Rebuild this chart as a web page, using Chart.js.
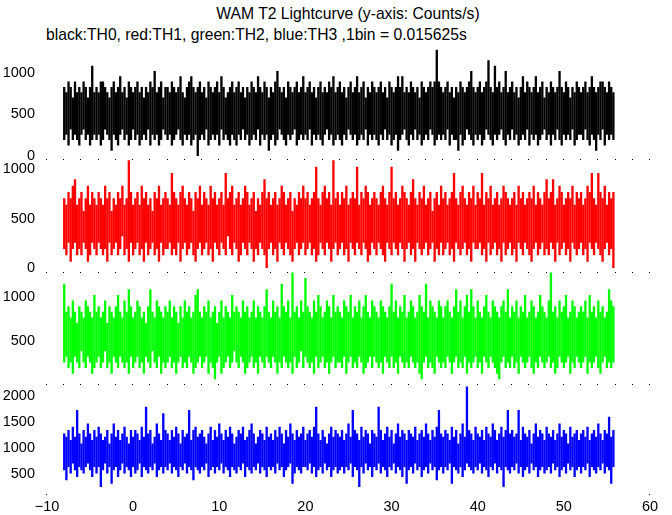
<!DOCTYPE html>
<html>
<head>
<meta charset="utf-8">
<script src="https://cdn.jsdelivr.net/npm/chart.js@4.4.0/dist/chart.umd.min.js"></script>
<style>
body { margin: 0; background: #fff; }
#wrap { position: relative; width: 672px; height: 515px; overflow: hidden; font-family: "Liberation Sans", Arial, sans-serif; }
#wrap canvas { position: absolute; left: 0; top: 0; }
.txt { position: absolute; font-size: 15.7px; line-height: 18px; white-space: nowrap; color: #000; }
</style>
</head>
<body>
<div id="wrap">
  <div class="txt" style="left:0;width:696px;text-align:center;top:5px">WAM T2 Lightcurve (y-axis: Counts/s)</div>
  <div class="txt" style="left:46px;top:26px">black:TH0, red:TH1, green:TH2, blue:TH3 ,1bin = 0.015625s</div>
</div>
<script>
// DATA //
// counts per 1/64 s bin: highest and lowest bin in each 0.25 s slice
var binSize = 0.015625;
var timeStart = -8;
var timeStep = 0.25;

var th0Max = [
  13,12,14,13,11,14,12,13,12,14,13,11,13,17,12,13,
  12,14,14,13,12,11,13,14,12,13,15,12,13,11,14,13,
  12,13,14,12,13,11,13,12,14,13,16,12,13,14,11,13,
  13,12,14,13,12,13,15,12,11,13,14,15,13,12,13,14,
  12,13,11,14,13,12,13,14,12,15,13,11,12,13,14,12,
  13,14,12,13,11,13,12,14,13,12,15,13,12,14,13,11,
  13,12,14,16,13,12,13,11,14,13,12,13,14,12,13,15,
  12,13,14,12,13,11,13,14,12,13,12,14,13,15,12,13,
  14,12,13,11,13,14,12,13,15,12,13,14,11,13,12,14,
  13,12,13,14,12,13,11,14,13,12,13,15,13,15,12,13,
  12,14,13,12,13,11,14,13,12,13,14,13,14,20,14,13,
  12,13,14,12,13,11,13,12,14,13,12,13,14,16,13,12,
  13,14,12,13,14,18,13,12,17,13,14,12,13,16,12,13,
  14,12,13,11,13,15,12,14,13,12,13,15,12,13,14,11,
  13,12,14,13,12,13,16,13,12,14,13,11,13,12,14,13,
  12,13,14,12,13,15,13,12,13,14,14,13,12,14,13,12
];
var th0Min = [
  3,4,2,5,3,4,3,2,4,5,3,4,2,3,4,3,
  4,2,3,5,4,3,1,4,3,2,4,5,3,4,2,3,
  5,3,4,2,3,4,3,5,2,4,3,4,2,3,5,4,
  3,4,2,3,4,5,3,2,4,3,4,2,3,4,0,3,
  4,3,5,2,3,4,3,4,2,5,3,4,3,2,4,3,
  2,4,3,5,3,4,2,3,4,3,5,2,4,3,4,1,
  3,4,2,3,5,4,3,2,4,3,4,5,2,3,4,3,
  4,3,5,2,4,3,4,3,2,4,5,3,4,2,3,4,
  3,2,4,3,5,4,3,4,2,3,4,3,5,2,4,3,
  4,3,2,4,3,5,3,4,2,3,4,1,3,4,5,3,
  2,4,3,5,3,4,2,3,4,3,5,4,2,3,4,3,
  4,3,5,2,4,3,3,1,4,2,3,5,4,3,2,4,
  3,4,2,3,5,4,3,2,4,3,4,5,3,2,4,3,
  5,3,4,2,3,4,3,5,2,4,3,4,2,3,4,5,
  3,4,2,4,3,5,3,2,4,3,4,3,5,2,3,4,
  4,3,5,3,2,4,3,1,4,3,5,2,4,3,4,3
];
var th1Max = [
  11,10,12,11,13,14,10,11,12,9,11,13,10,12,11,10,
  12,11,10,13,11,12,9,11,10,12,11,13,10,11,17,12,
  10,11,12,10,13,11,12,10,11,9,12,11,13,10,11,12,
  11,10,15,12,11,10,12,13,11,10,12,11,9,12,11,13,
  10,12,11,10,13,11,12,10,11,12,10,15,11,12,13,10,
  11,12,10,11,13,12,10,11,12,9,11,10,12,14,11,12,
  10,11,12,10,11,13,12,10,11,12,9,11,10,12,11,13,
  11,12,10,11,12,16,11,10,12,13,11,12,10,17,11,12,
  10,12,11,13,10,11,12,11,16,10,12,11,13,12,10,11,
  12,11,10,12,13,11,10,12,16,11,12,10,11,13,12,11,
  10,12,14,11,10,12,11,13,10,11,12,9,11,12,10,13,
  11,12,10,11,12,15,11,10,12,13,11,10,12,11,13,10,
  12,11,15,10,12,11,13,10,11,12,10,11,13,12,11,10,
  11,12,10,13,11,12,10,11,12,11,13,10,12,11,10,12,
  14,11,12,14,10,11,13,12,10,11,12,11,13,10,12,11,
  12,10,11,13,12,15,11,10,15,12,11,13,10,12,11,12
];
var th1Min = [
  3,2,4,1,3,4,2,3,2,4,3,1,2,4,3,2,
  4,3,2,3,1,4,2,3,4,2,3,5,2,3,1,4,
  2,3,4,2,3,1,4,2,3,4,2,3,1,4,2,3,
  3,4,2,3,2,4,1,3,4,2,3,4,2,1,3,4,
  2,3,4,2,3,1,4,3,2,4,3,2,5,3,2,4,
  3,1,2,4,3,2,4,3,1,3,2,4,3,2,0,3,
  4,2,3,1,4,3,2,4,3,2,1,3,4,2,3,4,
  2,3,4,2,3,1,2,4,3,2,4,3,1,3,4,2,
  3,4,2,3,1,4,3,2,4,3,2,4,3,1,2,4,
  3,2,4,3,2,1,4,3,2,4,3,2,4,3,1,3,
  4,2,3,1,4,3,2,3,4,2,3,4,1,3,2,4,
  2,3,4,2,3,1,4,3,2,3,4,2,3,1,4,3,
  3,4,2,3,1,4,2,3,4,2,3,1,4,2,3,4,
  2,3,1,4,3,2,4,3,2,1,3,4,2,3,4,2,
  3,2,4,3,1,4,2,3,4,2,3,1,4,3,2,3,
  4,2,3,1,4,3,2,4,3,2,1,3,4,2,3,0
];
var th2Max = [
  18,13,14,12,15,13,11,14,13,12,15,14,13,12,16,13,
  14,12,13,15,11,14,13,12,14,16,13,12,15,13,17,14,
  12,13,15,14,12,13,11,14,17,13,12,15,14,13,12,14,
  13,15,12,14,13,11,14,12,15,13,14,12,13,16,17,13,
  12,14,13,15,12,13,14,11,13,15,12,14,13,12,16,13,
  14,13,12,15,13,14,12,13,15,12,14,13,12,14,17,13,
  12,15,13,14,12,18,14,13,15,12,20,13,14,12,15,13,
  19,14,13,12,15,13,16,14,12,13,15,14,12,16,13,14,
  13,12,15,14,13,16,12,14,13,15,12,14,16,13,12,15,
  14,13,12,15,14,13,12,14,18,13,15,12,14,13,16,12,
  13,15,14,12,13,16,14,13,18,12,15,14,13,12,15,14,
  12,14,15,13,12,14,17,13,15,12,14,16,13,17,14,12,
  15,13,12,14,16,13,12,15,14,13,12,14,15,13,17,12,
  14,13,15,12,14,13,16,12,13,15,14,12,13,16,14,13,
  12,15,20,13,14,12,15,13,14,16,12,13,15,14,12,13,
  14,13,15,12,16,13,14,12,15,13,14,12,13,17,15,14
];
var th2Min = [
  4,5,3,4,2,5,4,3,6,4,3,5,4,2,3,4,
  5,3,4,6,3,4,2,5,4,3,5,4,3,4,2,5,
  3,4,5,3,4,2,5,4,3,6,4,3,5,2,4,3,
  4,5,3,4,2,4,5,3,4,3,5,4,2,3,4,5,
  3,4,5,2,4,3,1,4,5,2,3,4,5,3,4,6,
  4,3,5,4,2,3,4,5,3,4,2,5,4,3,5,4,
  3,5,4,2,4,3,5,4,3,4,2,5,3,4,6,3,
  5,4,3,4,2,5,3,4,5,3,4,2,4,5,3,4,
  4,3,5,2,4,5,3,4,3,5,4,2,3,4,5,3,
  5,4,3,4,2,5,4,3,5,3,4,2,5,4,3,4,
  3,5,4,3,4,2,1,4,5,3,4,3,2,5,4,3,
  4,3,5,4,2,4,5,3,4,3,5,2,4,3,4,5,
  3,4,2,5,4,3,5,4,3,2,1,4,5,3,4,3,
  5,3,4,2,5,4,3,4,5,3,2,4,3,5,4,3,
  4,5,3,4,2,3,5,4,3,4,5,2,4,3,5,4,
  3,4,5,2,4,3,4,5,3,2,4,5,3,4,3,4
];
var th3Max = [
  20,19,21,18,22,19,27,20,17,21,19,23,20,18,21,19,
  22,20,18,19,21,17,20,23,19,21,18,20,22,19,17,21,
  19,21,20,18,22,19,28,20,21,17,19,23,20,18,26,21,
  20,18,21,19,22,20,17,21,19,20,27,18,21,22,19,20,
  21,19,17,20,22,18,21,19,23,20,18,21,19,22,20,17,
  19,21,20,22,18,19,21,23,20,17,19,21,20,18,22,19,
  20,18,21,19,22,20,17,21,19,23,20,18,21,19,20,22,
  18,20,21,19,22,28,20,18,21,19,17,20,22,19,21,20,
  19,21,18,20,23,19,27,21,20,18,22,19,21,20,17,21,
  20,19,28,21,18,20,22,19,21,17,20,23,19,21,20,18,
  21,20,19,22,18,20,21,19,23,20,18,21,19,22,27,20,
  19,21,20,18,22,19,21,17,20,23,19,34,21,20,18,22,
  20,19,21,18,22,20,19,23,21,18,20,22,19,21,27,20,
  21,19,20,27,18,22,20,19,21,17,20,23,19,21,20,18,
  22,20,19,21,18,20,23,19,21,20,17,22,19,20,21,18,
  20,21,19,22,18,20,21,19,23,20,18,21,20,25,19,21
];
var th3Min = [
  9,6,10,8,11,9,7,10,9,8,10,11,9,7,10,8,
  10,4,9,11,8,10,5,9,10,7,9,11,8,10,9,7,
  10,8,9,11,7,10,9,8,10,9,11,7,9,10,8,10,
  9,11,8,10,9,7,10,9,11,8,10,9,6,10,9,8,
  10,9,11,7,9,10,8,10,9,11,8,10,9,7,10,9,
  8,10,9,11,7,10,9,8,10,9,11,8,10,9,7,10,
  9,10,8,11,9,10,7,9,10,11,5,8,10,9,8,10,
  10,9,11,8,10,7,9,10,8,11,9,10,7,9,10,8,
  9,10,8,10,9,11,7,10,9,4,10,8,11,9,10,7,
  10,9,11,8,10,9,7,10,9,11,8,10,9,7,10,5,
  9,10,8,11,9,10,7,9,10,8,11,9,10,6,9,10,
  8,10,9,11,5,10,9,8,10,7,9,11,10,9,8,10,
  9,11,8,10,9,7,10,9,11,8,10,9,4,10,9,8,
  10,9,11,8,10,7,9,10,8,11,9,10,7,9,10,8,
  9,10,8,11,9,10,7,9,10,8,11,9,10,7,9,10,
  8,10,9,11,7,10,9,8,10,9,11,8,10,9,5,10
];

var panelMax = [th0Max, th1Max, th2Max, th3Max];
var panelMin = [th0Min, th1Min, th2Min, th3Min];
var panelColors = ['#000000', '#ff0000', '#00ff00', '#0000ff'];
var panelTicks = [[0, 500, 1000], [0, 500, 1000], [500, 1000], [500, 1000, 1500, 2000]];
var xTicks = [-10, 0, 10, 20, 30, 40, 50, 60];
var minorStep = 2;

// PANEL LAYOUT //
var panelRange = [[-36, 1319], [-35, 1101], [11, 1290], [116, 2225]];
var panelTop = [46.5, 159, 271.5, 384];
var panelHeight = 112.5;
var fontFamily = '"Liberation Sans", Arial, sans-serif';

// tiny dotted minor ticks along the lower edge of each panel
var tickDots = {
    id: 'tickDots',
    afterDraw: function(chart) {
        var ctx = chart.ctx;
        var xs = chart.scales.x;
        var y = Math.round(chart.chartArea.bottom);
        var every = chart.options.plugins.tickDots.all;
        ctx.save();
        ctx.fillStyle = '#000';
        for (var v = xs.min; v <= xs.max; v += minorStep) {
            if (every || v == xs.min || v == xs.max) {
                ctx.fillRect(Math.round(xs.getPixelForValue(v)) - 1, y, 1, 1);
            }
        }
        ctx.restore();
    }
};

function makePanel(p) {
    var canvas = document.createElement("canvas");
    canvas.width = 672;
    canvas.height = 515;
    document.getElementById("wrap").appendChild(canvas);
    var lows = panelMin[p];
    var points = panelMax[p].map(function(c, i) {
        return {x: timeStart + i * timeStep, y: [lows[i] / binSize, c / binSize]};
    });
    var last = (p == 3);
    var below = 515 - panelTop[p] - panelHeight;
    return new Chart(canvas, {
        type: 'bar',
        data: {
            datasets: [{
                data: points,
                backgroundColor: panelColors[p],
                borderWidth: 0,
                barPercentage: 1.08,
                categoryPercentage: 1
            }]
        },
        plugins: [tickDots],
        options: {
            responsive: false,
            animation: false,
            events: [],
            layout: {
                padding: {top: panelTop[p], right: 22, left: 0, bottom: last ? 0 : below}
            },
            plugins: {
                legend: {display: false},
                tooltip: {enabled: false},
                tickDots: {all: !last}
            },
            scales: {
                x: {
                    type: 'linear',
                    min: -10,
                    max: 60,
                    offset: false,
                    display: last,
                    grid: {display: false, drawTicks: false, offset: false},
                    border: {display: false},
                    afterBuildTicks: function(a) { a.ticks = xTicks.map(function(v) { return {value: v}; }); },
                    afterFit: function(a) { if (last) a.height = below; },
                    ticks: {
                        color: '#000',
                        font: {family: fontFamily, size: 14.5},
                        padding: 4,
                        maxRotation: 0,
                        autoSkip: false,
                        callback: function(v) { return String(v).replace('-', '\u2212'); }
                    }
                },
                y: {
                    type: 'linear',
                    min: panelRange[p][0],
                    max: panelRange[p][1],
                    grid: {display: false, drawTicks: false},
                    border: {display: false},
                    afterBuildTicks: function(a) { a.ticks = panelTicks[p].map(function(v) { return {value: v}; }); },
                    afterFit: function(a) { a.width = 47; },
                    ticks: {
                        color: '#000',
                        font: {family: fontFamily, size: 14.5},
                        padding: 12,
                        callback: function(v) { return String(v); }
                    }
                }
            }
        }
    });
}

for (var p = 0; p < 4; p++) {
    makePanel(p);
}
</script>
</body>
</html>
